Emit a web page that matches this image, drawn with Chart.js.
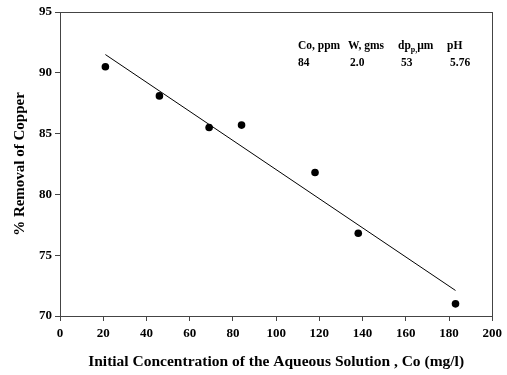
<!DOCTYPE html>
<html>
<head>
<meta charset="utf-8">
<script src="https://cdn.jsdelivr.net/npm/chart.js@4.4.1/dist/chart.umd.min.js"></script>
<style>
  html, body { margin: 0; padding: 0; background: #fff; }
  #wrap { width: 507px; height: 375px; }
</style>
</head>
<body>
<div id="wrap"><canvas id="c" width="507" height="375"></canvas></div>
<script>
// Measured removal of copper vs. initial concentration
const concentration = [21, 46, 69, 84, 118, 138, 183];
const removal = [90.5, 88.1, 85.5, 85.7, 81.8, 76.8, 71.0];

// Linear fit drawn across the measured range
const fitX = [21, 183];
const fitY = [91.5, 72.1];

// Experimental conditions table
const condHeaders = ['Co, ppm', 'W, gms', 'dp', 'pH'];
const condValues = ['84', '2.0', '53', '5.76'];

const xTicks = [0, 20, 40, 60, 80, 100, 120, 140, 160, 180, 200];
const yTicks = [70, 75, 80, 85, 90, 95];

const SERIF = '"Liberation Serif", "Times New Roman", serif';
const AXIS_COLOR = '#444';

const frame = {
  id: 'frame',
  afterDatasetsDraw(chart) {
    const { ctx, chartArea: a } = chart;
    ctx.save();
    ctx.strokeStyle = AXIS_COLOR;
    ctx.lineWidth = 1;
    ctx.strokeRect(Math.round(a.left) + 0.5, Math.round(a.top) + 0.5,
      Math.round(a.right - a.left), Math.round(a.bottom - a.top));
    ctx.restore();
  }
};

const conditions = {
  id: 'conditions',
  afterDraw(chart) {
    const { ctx, chartArea: a } = chart;
    ctx.save();
    ctx.fillStyle = '#000';
    ctx.textBaseline = 'alphabetic';
    const font = 'bold 11.5px ' + SERIF;
    const small = 'bold 8px ' + SERIF;
    const cols = [a.left + 238, a.left + 288, a.left + 338, a.left + 387];
    const valCols = [a.left + 238, a.left + 290, a.left + 341, a.left + 390];
    const y1 = a.top + 37, y2 = a.top + 54;
    condHeaders.forEach((h, i) => {
      let x = cols[i];
      ctx.font = font;
      if (h === 'dp') {
        ctx.fillText('dp', x, y1);
        x += ctx.measureText('dp').width;
        ctx.font = small;
        ctx.fillText('p,', x, y1 + 3);
        x += ctx.measureText('p,').width;
        ctx.font = font;
        ctx.fillText('\u00b5m', x, y1);
      } else {
        ctx.fillText(h, x, y1);
      }
    });
    ctx.font = font;
    condValues.forEach((v, i) => ctx.fillText(v, valCols[i], y2));
    ctx.restore();
  }
};

new Chart(document.getElementById('c'), {
  type: 'scatter',
  data: {
    datasets: [
      {
        type: 'scatter',
        data: concentration.map((x, i) => ({ x, y: removal[i] })),
        pointRadius: 3.8,
        pointBackgroundColor: '#000',
        pointBorderColor: '#000',
        pointBorderWidth: 0,
        order: 1
      },
      {
        type: 'line',
        data: fitX.map((x, i) => ({ x, y: fitY[i] })),
        borderColor: '#000',
        borderWidth: 1,
        pointRadius: 0,
        fill: false,
        order: 2
      }
    ]
  },
  options: {
    responsive: false,
    animation: false,
    events: [],
    layout: { padding: { top: 12, right: 12, left: 7, bottom: 0 } },
    plugins: { legend: { display: false }, tooltip: { enabled: false } },
    scales: {
      x: {
        type: 'linear',
        min: 0, max: 200,
        afterBuildTicks(s) { s.ticks = xTicks.map(v => ({ value: v })); },
        afterFit(s) { s.height = 59; },
        grid: { drawOnChartArea: false, drawTicks: true, tickLength: 5, color: AXIS_COLOR },
        border: { color: AXIS_COLOR },
        ticks: { color: '#000', padding: 5, maxRotation: 0, font: { family: SERIF, size: 13, weight: 'bold' } },
        title: {
          display: true,
          text: 'Initial Concentration of the Aqueous Solution , Co (mg/l)',
          color: '#000',
          padding: { top: 7 },
          font: { family: SERIF, size: 15.5, weight: 'bold' }
        }
      },
      y: {
        type: 'linear',
        min: 70, max: 95,
        afterBuildTicks(s) { s.ticks = yTicks.map(v => ({ value: v })); },
        afterFit(s) { s.width = 53; },
        grid: { drawOnChartArea: false, drawTicks: true, tickLength: 5, color: AXIS_COLOR },
        border: { color: AXIS_COLOR },
        ticks: { color: '#000', padding: 3, font: { family: SERIF, size: 13, weight: 'bold' } },
        title: {
          display: true,
          text: '% Removal of Copper',
          color: '#000',
          padding: { bottom: 0 },
          font: { family: SERIF, size: 15, weight: 'bold' }
        }
      }
    }
  },
  plugins: [frame, conditions]
});
</script>
</body>
</html>
